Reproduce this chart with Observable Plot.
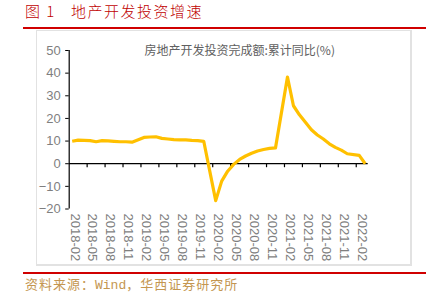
<!DOCTYPE html>
<html><head><meta charset="utf-8">
<script src="https://cdn.jsdelivr.net/npm/d3@7"></script>
<script src="https://cdn.jsdelivr.net/npm/@observablehq/plot@0.6"></script>
<style>
body{margin:0;width:426px;height:301px;position:relative;background:#fff;overflow:hidden;font-family:"Noto Sans CJK SC",sans-serif}
#title{position:absolute;left:25px;top:0px;font-size:15px;line-height:22px;color:#c00000;letter-spacing:1.5px;white-space:nowrap;font-weight:300}
#title .t2{position:absolute;left:46px;top:0}
.redline{position:absolute;left:23px;width:403px;height:2px;background:#d00000}
#box{position:absolute;left:36px;top:30px;width:373px;height:233px;border:1px solid #e2e2e2;border-right-width:2px;border-bottom-width:2px}
#chart{position:absolute;left:0;top:30px}
#caption{position:absolute;left:25px;top:274px;font-size:13px;line-height:20px;color:#c49650;letter-spacing:1px;white-space:nowrap}
#caption .m{font-family:"Liberation Mono",monospace;letter-spacing:0}
</style></head>
<body>
<div id="title"><span>图 1</span><span class="t2">地产开发投资增速</span></div>
<div class="redline" style="top:27px"></div>
<div id="box"></div>
<div id="chart"></div>
<div class="redline" style="top:272px"></div>
<div id="caption">资料来源：<span class="m">Wind</span>，华西证券研究所</div>
<script>
// Monthly categories 2018-02 … 2022-03 (January has no separate release)
const months = [
  "2018-02","2018-03","2018-04","2018-05","2018-06","2018-07","2018-08","2018-09","2018-10","2018-11","2018-12",
  "2019-01","2019-02","2019-03","2019-04","2019-05","2019-06","2019-07","2019-08","2019-09","2019-10","2019-11","2019-12",
  "2020-01","2020-02","2020-03","2020-04","2020-05","2020-06","2020-07","2020-08","2020-09","2020-10","2020-11","2020-12",
  "2021-01","2021-02","2021-03","2021-04","2021-05","2021-06","2021-07","2021-08","2021-09","2021-10","2021-11","2021-12",
  "2022-01","2022-02","2022-03"
];
// 房地产开发投资完成额:累计同比(%)
const investYoY = [
  9.9,10.4,10.3,10.2,9.7,10.2,10.1,9.9,9.7,9.7,9.5,
  null,11.6,11.8,11.9,11.2,10.9,10.6,10.5,10.5,10.3,10.2,9.9,
  null,-16.3,-7.7,-3.3,-0.3,1.9,3.4,4.6,5.6,6.3,6.8,7.0,
  null,38.3,25.6,21.6,18.3,15.0,12.7,10.9,8.8,7.2,6.0,4.4,
  null,3.7,0
];
const yTicks = [-20,-10,0,10,20,30,40,50];
const labelEvery = 3;
const seriesName = "房地产开发投资完成额:累计同比(%)";

const rows = months.map((m, i) => ({i, m, v: investYoY[i]}));
const lineRows = rows.filter(d => d.v != null);
const labelRows = rows.filter(d => d.i % labelEvery === 0);
const boundaries = d3.range(labelEvery, months.length, labelEvery);
const tickSym = {draw(ctx) { ctx.moveTo(0, 0); ctx.lineTo(0, 3.5); }};

const chart = Plot.plot({
  width: 426, height: 236,
  marginLeft: 68.7, marginRight: 58.3, marginTop: 20, marginBottom: 57.5,
  style: {fontFamily: "'Liberation Sans', Arial, sans-serif", background: "transparent"},
  x: {domain: [0, months.length], axis: null},
  y: {domain: [d3.min(yTicks), d3.max(yTicks)], axis: null},
  marks: [
    Plot.axisY(yTicks, {tickSize: 3.5, tickFormat: () => "", stroke: "#000", label: null}),
    Plot.axisY(yTicks, {tickSize: 0, tickPadding: 8.5, fill: "#7f7f7f", fontSize: 13, label: null}),
    Plot.ruleX([0], {stroke: "#000", strokeWidth: 1.2}),
    Plot.ruleY([0], {stroke: "#000", strokeWidth: 1.2}),
    Plot.dot(boundaries, {x: d => d, y: 0, symbol: tickSym, stroke: "#000", fill: "none", strokeWidth: 1.2}),
    Plot.text(labelRows, {x: d => d.i + 0.5, text: "m", frameAnchor: "bottom", rotate: 90, textAnchor: "start", lineAnchor: "middle", dy: 4.5, dx: 2.5, fill: "#7f7f7f", fontSize: 13}),
    Plot.line(lineRows, {x: d => d.i + 0.5, y: "v", stroke: "#FFC000", strokeWidth: 3.2, strokeLinejoin: "round", strokeLinecap: "butt"}),
    Plot.text([seriesName], {text: d => d, frameAnchor: "top", dx: 21, dy: -4, fill: "#606060", fontSize: 12, fontFamily: "'Noto Sans CJK SC', sans-serif"})
  ]
});
document.getElementById("chart").appendChild(chart);
</script>
</body></html>
